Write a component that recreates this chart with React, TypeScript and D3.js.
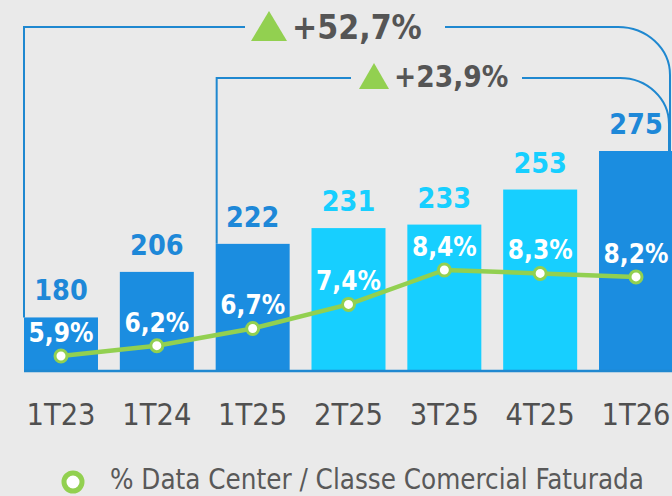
import React from "react";
import * as d3 from "d3";

const categories = ["1T23", "1T24", "1T25", "2T25", "3T25", "4T25", "1T26"];
const barValues = [180, 206, 222, 231, 233, 253, 275];
const barHighlight = [true, true, true, false, false, false, true];
const pctValues = [5.9, 6.2, 6.7, 7.4, 8.4, 8.3, 8.2];
const pctLabels = ["5,9%", "6,2%", "6,7%", "7,4%", "8,4%", "8,3%", "8,2%"];
const growthOuter = "+52,7%";
const growthInner = "+23,9%";
const legendLabel = "% Data Center / Classe Comercial Faturada";

const W = 672;
const H = 496;
const DARK = "#1b8de0";
const CYAN = "#17cfff";
const GREEN = "#92d050";
const LINE_BLUE = "#1f88d0";
const GRAY = "#555555";
const FONT = "'DejaVu Sans Condensed', 'DejaVu Sans', sans-serif";

export default function App() {
  const x = d3
    .scaleBand<string>()
    .domain(categories)
    .range([24, 673])
    .paddingInner(0.228)
    .paddingOuter(0);
  const y = d3.scaleLinear().domain([150, 275]).range([370, 151]);
  const y2 = d3.scaleLinear().domain([5.9, 8.4]).range([356, 270]);
  const bw = x.bandwidth();
  const cx = (c: string) => (x(c) as number) + bw / 2;

  const linePath = d3
    .line<number>()
    .x((_, i) => cx(categories[i]))
    .y((d) => y2(d))(pctValues) as string;

  // bracket annotations
  const last = categories.length - 1;
  const rightX = 670;
  const outerY = 27;
  const innerY = 78;
  const outerLeft = x(categories[0]) as number;
  const innerLeft = (x(categories[2]) as number) + 1;
  const endY = y(barValues[last]);
  const outerPathL = `M${outerLeft},${y(barValues[0])} V${outerY} H245`;
  const outerPathR = `M445,${outerY} H${rightX - 52} A52,48 0 0 1 ${rightX},${outerY + 48} V${endY}`;
  const innerPathL = `M${innerLeft},${y(barValues[2])} V${innerY} H351`;
  const innerPathR = `M522,${innerY} H${rightX - 50} A49,46 0 0 1 ${rightX - 1},${innerY + 46} V${endY}`;

  return (
    <div style={{ position: "fixed", left: 0, top: 0, width: W, height: H }}>
      <svg width={W} height={H} style={{ display: "block" }} fontFamily={FONT}>
        <rect width={W} height={H} fill="#eaeaea" />
        {/* brackets */}
        <g fill="none" stroke={LINE_BLUE} strokeWidth={2}>
          <path d={outerPathL} />
          <path d={outerPathR} />
          <path d={innerPathL} />
          <path d={innerPathR} />
        </g>
        {/* growth annotations */}
        <path d={`M251,41 L269,11 L287,41 Z`} fill={GREEN} />
        <text x={292} y={39} fontSize={33.5} fontWeight="bold" fill={GRAY} fontStretch="condensed">
          {growthOuter}
        </text>
        <path d={`M359,89 L374,63 L389,89 Z`} fill={GREEN} />
        <text x={394} y={87} fontSize={29.5} fontWeight="bold" fill={GRAY} fontStretch="condensed">
          {growthInner}
        </text>
        {/* bars */}
        {categories.map((c, i) => (
          <rect
            key={c}
            x={x(c)}
            y={y(barValues[i])}
            width={bw}
            height={370 - y(barValues[i])}
            fill={barHighlight[i] ? DARK : CYAN}
          />
        ))}
        {/* axis line */}
        <line x1={24} x2={W} y1={371} y2={371} stroke={LINE_BLUE} strokeWidth={2.5} />
        {/* value labels */}
        {categories.map((c, i) => (
          <text
            key={c}
            x={cx(c)}
            y={y(barValues[i]) - 17}
            textAnchor="middle"
            fontSize={28.5}
            fontWeight="bold"
            fontStretch="condensed"
            fill={barHighlight[i] ? "#1e88d8" : CYAN}
          >
            {barValues[i]}
          </text>
        ))}
        {/* line */}
        <path d={linePath} fill="none" stroke={GREEN} strokeWidth={4.5} strokeLinejoin="round" />
        {categories.map((c, i) => (
          <circle key={c} cx={cx(c)} cy={y2(pctValues[i])} r={6} fill="#fff" stroke={GREEN} strokeWidth={3} />
        ))}
        {categories.map((c, i) => (
          <text
            key={c}
            x={cx(c)}
            y={y2(pctValues[i]) - 14}
            textAnchor="middle"
            fontSize={26}
            fontWeight="bold"
            fontStretch="condensed"
            fill="#fff"
          >
            {pctLabels[i]}
          </text>
        ))}
        {/* x axis labels */}
        {categories.map((c) => (
          <text key={c} x={cx(c)} y={425} textAnchor="middle" fontSize={30.5} fontStretch="condensed" fill="#505050">
            {c}
          </text>
        ))}
        {/* legend */}
        <circle cx={73} cy={482} r={9} fill="#fff" stroke={GREEN} strokeWidth={5} />
        <text x={110} y={489} fontSize={27.5} fontStretch="condensed" fill="#595959">
          {legendLabel}
        </text>
      </svg>
    </div>
  );
}
